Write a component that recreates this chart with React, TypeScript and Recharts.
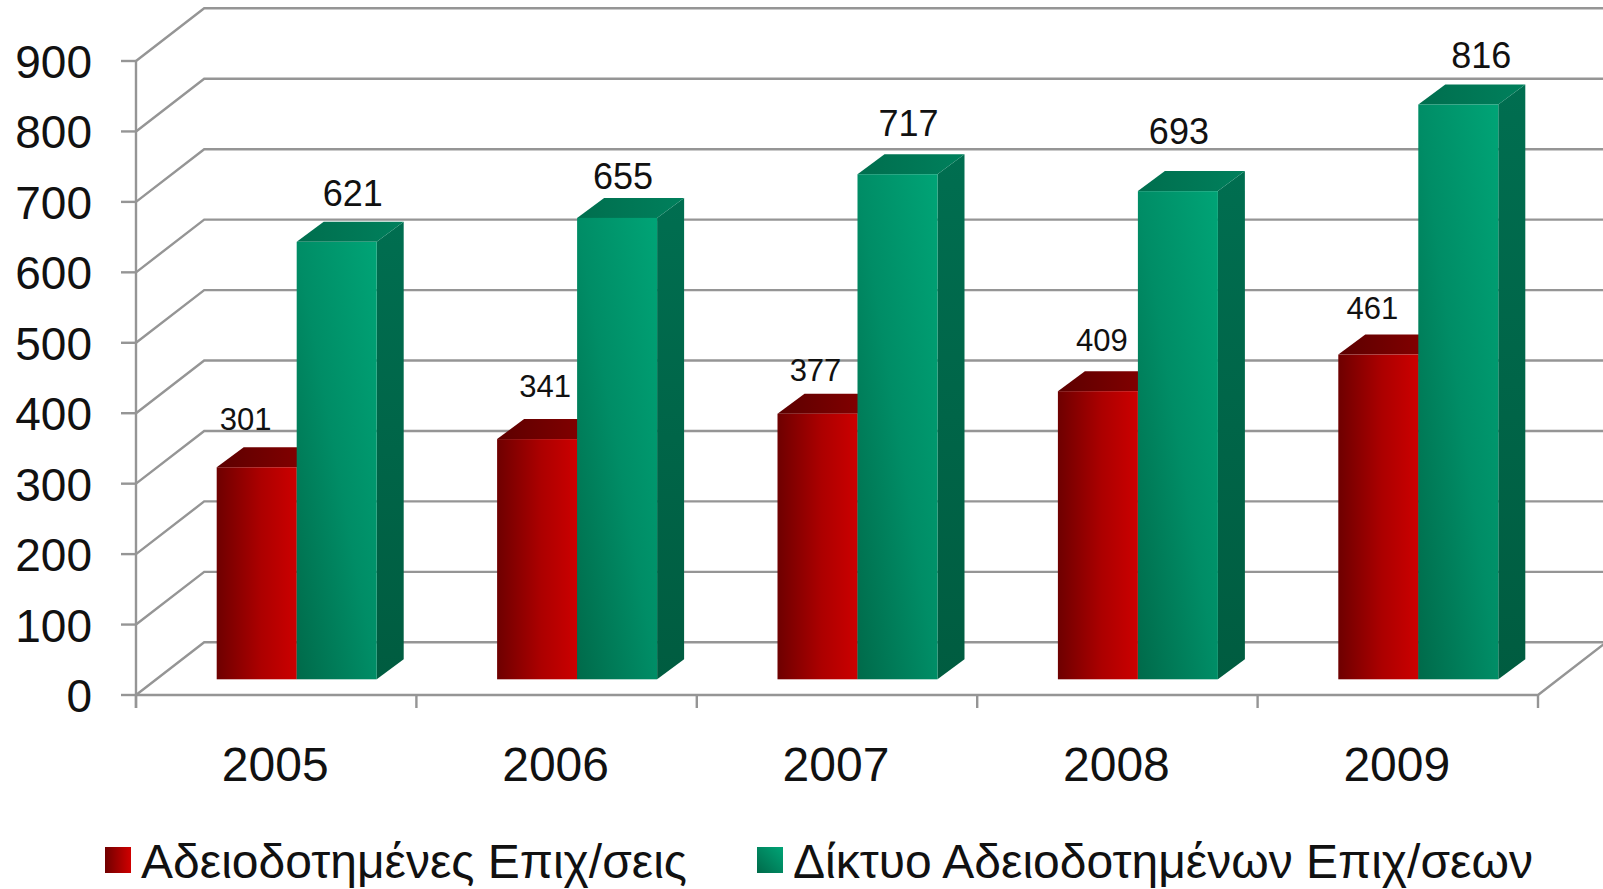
import { Bar, BarChart, CartesianGrid, LabelList, Legend, XAxis, YAxis } from "recharts"

const years = ["2005", "2006", "2007", "2008", "2009"]
const licensed = [301, 341, 377, 409, 461]
const network = [621, 655, 717, 693, 816]
const yTicks = [0, 100, 200, 300, 400, 500, 600, 700, 800, 900]

const licensedName = "Αδειοδοτημένες Επιχ/σεις"
const networkName = "Δίκτυο Αδειοδοτημένων Επιχ/σεων"

// the labels were dragged by hand in the original, so they sit off-centre
const licensedLabelShift = [[-11, -48], [8, -53], [-2, -44], [4, -51], [-6, -47]]
const networkLabelShift = [[16, -49], [6, -42], [11, -51], [1, -60], [23, -49]]

const data = years.map((year, i) => ({ year, licensed: licensed[i], network: network[i] }))

const WIDTH = 1603
const HEIGHT = 889
const FONT = "'Liberation Sans', Arial, sans-serif"
const GRID = "#959595"

// plot area is the plane the bars stand on, the walls are offset from it
const PLOT_LEFT = 156.7
const PLOT_RIGHT = 1558.7
const PLOT_TOP = 45.3
const PLOT_BOTTOM = 679.3
const FRONT_DX = -20.7
const FRONT_DY = 15.7
const BACK_DX = 47.5
const BACK_DY = -37
const DEPTH_X = 27
const DEPTH_Y = 20
const BAND = (PLOT_RIGHT - PLOT_LEFT) / years.length

function Box3D(props: any) {
  const { x, y, width, height, kind } = props
  const r = x + width
  const dx = DEPTH_X
  const dy = DEPTH_Y
  return (
    <g>
      <polygon points={`${r},${y} ${r + dx},${y - dy} ${r + dx},${y + height - dy} ${r},${y + height}`} fill={`url(#${kind}Side)`} />
      <polygon points={`${x},${y} ${r},${y} ${r + dx},${y - dy} ${x + dx},${y - dy}`} fill={`url(#${kind}Top)`} />
      <rect x={x} y={y} width={width} height={height} fill={`url(#${kind}Front)`} />
    </g>
  )
}

function gridLine(props: any) {
  const { x1, x2, y1, index } = props
  const fx = x1 + FRONT_DX
  const fy = y1 + FRONT_DY
  const bx = x1 + BACK_DX
  const by = y1 + BACK_DY
  const isFloor = Math.abs(y1 - PLOT_BOTTOM) < 1
  const isTop = Math.abs(y1 - PLOT_TOP) < 1
  return (
    <g key={`grid-${index}`} stroke={GRID} strokeWidth={2.4} fill="none">
      <polyline points={`${fx},${fy} ${bx},${by} ${x2 + BACK_DX},${by}`} />
      {isFloor && (
        <polyline points={`${fx},${fy} ${x2 + FRONT_DX},${fy} ${x2 + BACK_DX},${by}`} />
      )}
      {isTop && <line x1={fx} y1={fy} x2={fx} y2={PLOT_BOTTOM + FRONT_DY + 13} />}
    </g>
  )
}

function YTick(props: any) {
  const { y, payload } = props
  const fx = PLOT_LEFT + FRONT_DX
  const fy = y + FRONT_DY
  return (
    <g>
      <line x1={fx - 15} y1={fy} x2={fx} y2={fy} stroke={GRID} strokeWidth={2.4} />
      <text x={92} y={fy + 17} textAnchor="end" fontSize={46} fontFamily={FONT} fill="#111">
        {payload.value}
      </text>
    </g>
  )
}

function XTick(props: any) {
  const { x, payload, index } = props
  const cx = x + FRONT_DX
  const top = PLOT_BOTTOM + FRONT_DY
  return (
    <g>
      <line x1={cx - BAND / 2} y1={top} x2={cx - BAND / 2} y2={top + 13} stroke={GRID} strokeWidth={2.4} />
      {index === years.length - 1 && (
        <line x1={cx + BAND / 2} y1={top} x2={cx + BAND / 2} y2={top + 13} stroke={GRID} strokeWidth={2.4} />
      )}
      <text x={cx - 1} y={781} textAnchor="middle" fontSize={48} fontFamily={FONT} fill="#111">
        {payload.value}
      </text>
    </g>
  )
}

function makeLabel(shifts: number[][], size: number) {
  return function BarLabel(props: any) {
    const { x, y, width, value, index } = props
    const [sx, sy] = shifts[index]
    return (
      <text
        x={x + width / 2 + sx}
        y={y + sy + size * 0.36}
        textAnchor="middle"
        fontSize={size}
        fontFamily={FONT}
        fill="#111"
      >
        {value}
      </text>
    )
  }
}

function LegendBox() {
  const swatch = (left: number, background: string) => (
    <div style={{ position: "absolute", left, top: 847, width: 26, height: 26, background }} />
  )
  const label = (left: number, text: string) => (
    <div
      style={{
        position: "absolute",
        left,
        top: 836,
        fontSize: 48,
        lineHeight: "52px",
        fontFamily: FONT,
        color: "#111",
        whiteSpace: "nowrap",
      }}
    >
      {text}
    </div>
  )
  return (
    <div style={{ position: "relative", height: 0 }}>
      {swatch(105, "linear-gradient(90deg, #700000, #d00000)")}
      {label(141, licensedName)}
      {swatch(757, "linear-gradient(45deg, #006a4a, #00a476)")}
      {label(793, networkName)}
    </div>
  )
}

export default function App() {
  return (
    <div style={{ position: "absolute", left: 0, top: 0, width: WIDTH, height: HEIGHT, background: "#fff" }}>
      <BarChart
        width={WIDTH}
        height={HEIGHT}
        data={data}
        barSize={80}
        barGap={0}
        margin={{ top: PLOT_TOP, right: WIDTH - PLOT_RIGHT, bottom: HEIGHT - PLOT_BOTTOM - 100, left: 0 }}
      >
        <defs>
          <linearGradient id="redFront" x1="0" y1="0" x2="1" y2="0">
            <stop offset="0%" stopColor="#6e0000" />
            <stop offset="55%" stopColor="#ac0000" />
            <stop offset="100%" stopColor="#cc0000" />
          </linearGradient>
          <linearGradient id="redTop" x1="0" y1="0" x2="1" y2="0">
            <stop offset="0%" stopColor="#5c0000" />
            <stop offset="100%" stopColor="#8c0000" />
          </linearGradient>
          <linearGradient id="redSide" x1="0" y1="0" x2="0" y2="1">
            <stop offset="0%" stopColor="#6e0000" />
            <stop offset="100%" stopColor="#500000" />
          </linearGradient>
          <linearGradient id="greenFront" x1="0" y1="1" x2="1" y2="0">
            <stop offset="0%" stopColor="#006a4a" />
            <stop offset="50%" stopColor="#008d66" />
            <stop offset="100%" stopColor="#00a476" />
          </linearGradient>
          <linearGradient id="greenTop" x1="0" y1="0" x2="1" y2="0">
            <stop offset="0%" stopColor="#006e4e" />
            <stop offset="100%" stopColor="#00805c" />
          </linearGradient>
          <linearGradient id="greenSide" x1="0" y1="0" x2="0" y2="1">
            <stop offset="0%" stopColor="#006e50" />
            <stop offset="100%" stopColor="#005c40" />
          </linearGradient>
        </defs>
        <CartesianGrid horizontal={gridLine} vertical={false} />
        <XAxis dataKey="year" height={100} axisLine={false} tickLine={false} interval={0} tick={<XTick />} />
        <YAxis
          width={PLOT_LEFT}
          domain={[0, 900]}
          ticks={yTicks}
          interval={0}
          axisLine={false}
          tickLine={false}
          tick={<YTick />}
        />
        <Legend content={<LegendBox />} wrapperStyle={{ left: 0, top: 0, bottom: "auto", width: WIDTH, height: 0 }} />
        <Bar
          dataKey="licensed"
          name={licensedName}
          fill="#c00000"
          isAnimationActive={false}
          shape={(p: any) => <Box3D {...p} kind="red" />}
        >
          <LabelList dataKey="licensed" content={makeLabel(licensedLabelShift, 31)} />
        </Bar>
        <Bar
          dataKey="network"
          name={networkName}
          fill="#009a6c"
          isAnimationActive={false}
          shape={(p: any) => <Box3D {...p} kind="green" />}
        >
          <LabelList dataKey="network" content={makeLabel(networkLabelShift, 36)} />
        </Bar>
      </BarChart>
    </div>
  )
}
